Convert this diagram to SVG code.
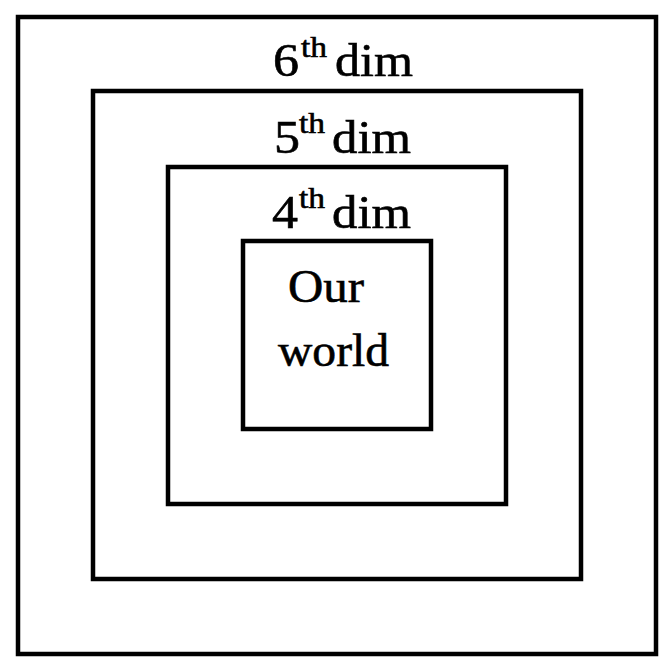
<svg xmlns="http://www.w3.org/2000/svg" width="665" height="661" viewBox="0 0 665 661">
<style>
.box{fill:none;stroke:#000;stroke-width:4.5}
.lbl{font-family:"Liberation Serif","Times New Roman",serif;font-size:47px;fill:#000;stroke:#000;stroke-width:0.6}
.sup{font-size:29px}
</style>
<rect width="665" height="661" fill="#fff"/>
<g id="dim6">
<rect class="box" x="18" y="17" width="638" height="637"/>
<text class="lbl" y="76"><tspan x="273" textLength="26" lengthAdjust="spacingAndGlyphs">6</tspan><tspan class="sup" x="301" y="57" textLength="26" lengthAdjust="spacingAndGlyphs">th</tspan><tspan x="335" y="76" textLength="78" lengthAdjust="spacingAndGlyphs">dim</tspan></text>
</g>
<g id="dim5">
<rect class="box" x="93" y="91" width="488" height="488"/>
<text class="lbl" y="153"><tspan x="274" textLength="26" lengthAdjust="spacingAndGlyphs">5</tspan><tspan class="sup" x="299" y="133" textLength="26" lengthAdjust="spacingAndGlyphs">th</tspan><tspan x="332" y="153" textLength="79" lengthAdjust="spacingAndGlyphs">dim</tspan></text>
</g>
<g id="dim4">
<rect class="box" x="168" y="167" width="338" height="337"/>
<text class="lbl" y="228"><tspan x="272" textLength="26" lengthAdjust="spacingAndGlyphs">4</tspan><tspan class="sup" x="299" y="208" textLength="26" lengthAdjust="spacingAndGlyphs">th</tspan><tspan x="332" y="228" textLength="79" lengthAdjust="spacingAndGlyphs">dim</tspan></text>
</g>
<g id="world">
<rect class="box" x="243" y="241" width="188" height="188"/>
<text class="lbl"><tspan x="288" y="302" textLength="76" lengthAdjust="spacingAndGlyphs">Our</tspan><tspan x="278" y="366" textLength="111" lengthAdjust="spacingAndGlyphs">world</tspan></text>
</g>
<g id="connectors"/>
</svg>
